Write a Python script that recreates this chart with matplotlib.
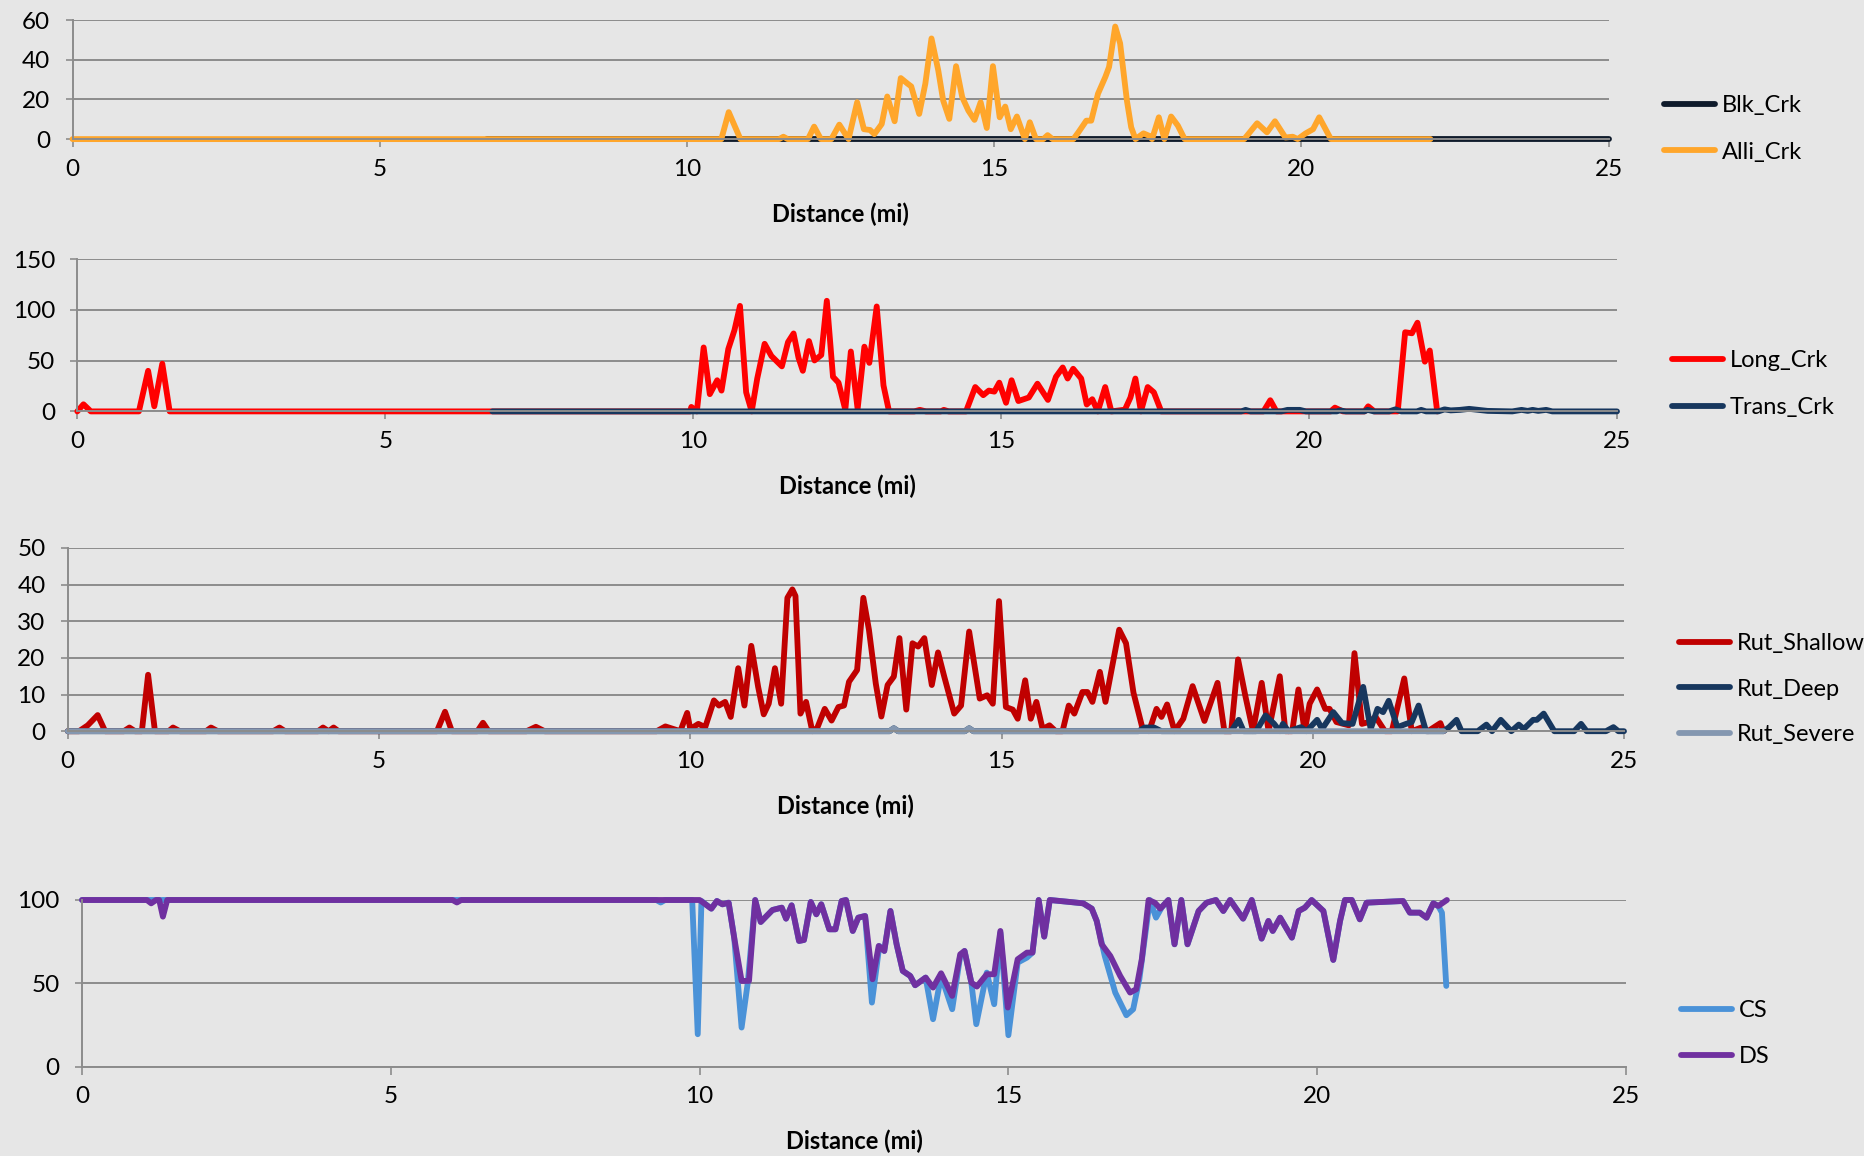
import matplotlib
matplotlib.use("Agg")
import matplotlib.pyplot as plt

plt.rcParams['font.family'] = ['Lato', 'DejaVu Sans']

# ---- data (distance in miles, value) ----
blk_d = [6.74, 25]
blk_v = [0, 0]

alli_d = [0, 10.56, 10.68, 10.87, 11.50, 11.57, 11.64, 11.97, 12.07, 12.18,
          12.35, 12.48, 12.63, 12.77, 12.88, 12.98, 13.05, 13.17, 13.26, 13.38,
          13.48, 13.59, 13.65, 13.78, 13.88, 13.98, 14.09, 14.17, 14.27, 14.38,
          14.48, 14.58, 14.68, 14.78, 14.88, 14.98, 15.09, 15.18, 15.27, 15.37,
          15.50, 15.58, 15.68, 15.80, 15.87, 15.95, 16.29, 16.37, 16.50, 16.58,
          16.69, 16.81, 16.87, 16.97, 17.05, 17.16, 17.23, 17.30, 17.43, 17.52,
          17.57, 17.68, 17.77, 17.88, 17.99, 18.10, 19.07, 19.28, 19.44, 19.57,
          19.74, 19.86, 19.94, 20.07, 20.19, 20.29, 20.48, 22.10]
alli_v = [0, 0, 13.6, 0, 0, 1.2, 0, 0, 6.3, 0,
          0, 7.3, 0, 18.6, 5, 4.6, 2.5, 7.6, 21.5, 9,
          30.8, 28, 26.6, 12.7, 28, 50.8, 34.7, 19.5, 10.2, 36.8,
          21.2, 14.4, 9.7, 18.6, 5.6, 36.8, 11, 16.4, 5, 11.4,
          0, 8.5, 0, 0, 2, 0, 0, 3.4, 9.3, 9.3,
          22.9, 31.4, 36.4, 56.8, 48.3, 19.5, 6, 0, 2.9, 1.7,
          0, 11, 0, 11.4, 6.8, 0, 0, 8, 3.4, 9,
          0.8, 1.2, 0, 2.9, 5, 11, 0, 0]

long_d = [0, 0.10, 0.22, 1.00, 1.15, 1.25, 1.38, 1.50, 9.95, 9.97,
          10.06, 10.17, 10.27, 10.39, 10.46, 10.57, 10.67, 10.76, 10.86, 10.95,
          11.04, 11.16, 11.27, 11.44, 11.54, 11.63, 11.71, 11.78, 11.88, 11.97,
          12.08, 12.17, 12.27, 12.36, 12.47, 12.56, 12.67, 12.78, 12.86, 12.98,
          13.09, 13.18, 13.59, 13.68, 13.78, 14.02, 14.07, 14.15, 14.43, 14.58,
          14.71, 14.80, 14.89, 14.97, 15.08, 15.17, 15.28, 15.45, 15.59, 15.76,
          15.89, 16.00, 16.08, 16.17, 16.30, 16.39, 16.48, 16.57, 16.69, 16.79,
          17.01, 17.10, 17.18, 17.27, 17.38, 17.48, 17.60, 19.26, 19.37, 19.47,
          20.35, 20.42, 20.55, 20.90, 20.96, 21.06, 21.44, 21.56, 21.67, 21.76,
          21.88, 21.96, 22.08]
long_v = [0, 7, 0, 0, 40, 5, 47, 0, 0, 4.4,
          0, 63, 17, 30.7, 20.5, 61.4, 80, 104, 18.8, 0,
          32.4, 66.6, 54.6, 44.4, 68.3, 76.8, 52.9, 40, 69.3, 50.2,
          55.6, 109, 34.1, 28.3, 1.7, 59, 2.4, 63.8, 47.8, 103.4,
          25.6, 0, 0, 1.5, 0, 0, 1.5, 0, 0, 24,
          16, 20.5, 19.5, 28.3, 8.5, 30.7, 10.2, 13.7, 27.3, 11.3,
          34.1, 43.3, 32.4, 42, 32.4, 6.8, 12, 0, 24, 0,
          1.7, 13.7, 32.4, 0, 24, 18.8, 0, 0, 11, 0,
          0, 3.7, 0, 0, 5, 0, 0, 78, 77, 87.4,
          49, 60, 0]

trans_d = [6.74, 18.90, 18.97, 19.05, 19.55, 19.65, 19.85, 19.95, 20.45, 20.50,
           20.60, 20.90, 20.95, 21.05, 21.30, 21.40, 21.50, 21.75, 21.82, 21.90,
           22.10, 22.20, 22.30, 22.45, 22.60, 22.75, 22.90, 23.30, 23.45, 23.55,
           23.63, 23.72, 23.85, 23.95, 25]
trans_v = [0, 0, 1.5, 0, 0, 1.5, 1.5, 0, 0, 1,
           0, 0, 1.5, 0, 0, 2, 0, 0, 1.5, 0,
           0, 2, 1, 1.5, 2.5, 1.5, 0.5, 0, 1.5, 0.5,
           1.5, 0.5, 1.5, 0, 0]

shallow_d = [0, 0.18, 0.32, 0.48, 0.60, 0.90, 0.99, 1.08, 1.19, 1.29,
             1.40, 1.62, 1.69, 1.80, 2.22, 2.30, 2.41, 3.30, 3.40, 3.49,
             4.02, 4.10, 4.19, 4.27, 4.35, 5.93, 6.06, 6.17, 6.58, 6.67,
             6.76, 7.37, 7.52, 7.66, 9.46, 9.60, 9.84, 9.95, 10.00, 10.13,
             10.24, 10.38, 10.46, 10.56, 10.65, 10.77, 10.87, 10.98, 11.09, 11.18,
             11.26, 11.36, 11.46, 11.56, 11.64, 11.69, 11.77, 11.86, 11.96, 12.04,
             12.16, 12.27, 12.38, 12.47, 12.55, 12.68, 12.78, 12.87, 12.98, 13.07,
             13.17, 13.27, 13.36, 13.47, 13.57, 13.66, 13.76, 13.88, 13.98, 14.08,
             14.24, 14.35, 14.48, 14.65, 14.77, 14.86, 14.96, 15.07, 15.18, 15.26,
             15.38, 15.47, 15.56, 15.66, 15.77, 15.87, 15.98, 16.08, 16.17, 16.30,
             16.38, 16.46, 16.58, 16.67, 16.89, 17.00, 17.12, 17.26, 17.37, 17.49,
             17.57, 17.66, 17.78, 17.92, 18.07, 18.26, 18.47, 18.58, 18.69, 18.80,
             18.92, 19.04, 19.18, 19.29, 19.47, 19.56, 19.67, 19.77, 19.87, 19.95,
             20.07, 20.20, 20.27, 20.38, 20.58, 20.67, 20.79, 20.90, 21.01, 21.16,
             21.27, 21.47, 21.59, 21.76, 21.85, 22.05, 22.10]
shallow_v = [0, 0, 1.6, 4.4, 0, 0, 1, 0, 0, 15.4,
             0, 0, 1, 0, 0, 1, 0, 0, 1, 0,
             0, 1, 0, 1, 0, 0, 5.3, 0, 0, 2.3,
             0, 0, 1.2, 0, 0, 1.3, 0, 5, 0.6, 2,
             1.1, 8.4, 7, 8, 3.9, 17.2, 7, 23.3, 12.1, 4.6,
             7.5, 17.2, 7.5, 36.4, 38.7, 36.9, 4.8, 8, 0, 0.9,
             6.1, 2.9, 6.6, 7, 13.5, 16.7, 36.4, 27.7, 13, 4,
             12.6, 14.9, 25.4, 5.9, 24, 23.1, 25.4, 12.6, 21.5, 14.9,
             4.8, 7, 27.2, 8.9, 9.8, 7.5, 35.5, 6.6, 5.9, 3.4,
             13.9, 3.4, 8, 0.6, 1.6, 0, 0, 7, 4.8, 10.7,
             10.7, 8, 16.2, 8, 27.7, 24, 10.5, 1.1, 0, 6.1,
             3.9, 7.3, 0, 3.4, 12.3, 2.8, 13.2, 0, 0, 19.6,
             9.4, 0, 13.2, 0, 15, 0, 0, 11.4, 0, 7.5,
             11.4, 6.1, 6.1, 2.5, 1.6, 21.3, 2, 2.5, 3.9, 0,
             0, 14.4, 0, 1.1, 0, 2.2, 0]

deep_d = [0, 13.20, 13.27, 13.34, 14.41, 14.48, 14.55, 17.20, 17.30, 17.45,
          17.57, 18.69, 18.81, 18.89, 19.09, 19.24, 19.38, 19.47, 19.52, 19.61,
          19.81, 19.90, 20.07, 20.15, 20.33, 20.47, 20.64, 20.81, 20.93, 21.04,
          21.13, 21.22, 21.36, 21.50, 21.59, 21.70, 21.82, 22.10, 22.19, 22.31,
          22.39, 22.65, 22.79, 22.88, 23.02, 23.19, 23.31, 23.39, 23.54, 23.60,
          23.71, 23.88, 24.20, 24.31, 24.40, 24.71, 24.83, 24.91, 25]
deep_v = [0, 0, 0.8, 0, 0, 0.8, 0, 0, 1, 1,
          0, 0, 3.1, 0, 0, 4.3, 2, 0, 2, 0,
          1.1, 0, 3.1, 0.6, 5.2, 2.2, 2, 12.1, 0.6, 6.1,
          5.2, 8.3, 1.1, 2, 2.5, 7, 0, 0, 1.1, 3.1,
          0, 0, 1.8, 0, 3.1, 0, 1.8, 0.6, 3.1, 3.1,
          4.8, 0, 0, 2, 0, 0, 1.1, 0, 0]

severe_d = [0, 13.20, 13.27, 13.34, 14.41, 14.48, 14.55, 22.10]
severe_v = [0, 0, 0.8, 0, 0, 0.8, 0, 0]

cs_d = [0, 9.30, 9.37, 9.44, 9.88, 9.97, 10.03, 10.19, 10.28, 10.37,
        10.47, 10.56, 10.68, 10.78, 10.90, 10.99, 11.18, 11.33, 11.40, 11.49,
        11.61, 11.69, 11.80, 11.89, 11.97, 12.10, 12.20, 12.30, 12.37, 12.48,
        12.57, 12.68, 12.79, 12.91, 12.99, 13.09, 13.19, 13.29, 13.41, 13.49,
        13.66, 13.78, 13.91, 14.09, 14.22, 14.29, 14.40, 14.48, 14.65, 14.77,
        14.87, 15.00, 15.15, 15.30, 15.39, 15.49, 15.58, 15.67, 16.00, 16.21,
        16.35, 16.43, 16.56, 16.73, 16.91, 17.02, 17.12, 17.29, 17.39, 17.48,
        17.59, 17.69, 17.80, 17.90, 18.08, 18.21, 18.36, 18.48, 18.59, 18.80,
        18.94, 19.10, 19.21, 19.28, 19.40, 19.59, 19.70, 19.80, 19.91, 20.10,
        20.26, 20.37, 20.45, 20.56, 20.69, 20.80, 21.39, 21.50, 21.66, 21.77,
        21.88, 21.96, 22.02, 22.09]
cs_v = [100, 100, 98.5, 100, 100, 19.4, 99.4, 94.8, 99.4, 97.4,
        98.4, 77.4, 23.4, 50.4, 100, 86.8, 94, 95.4, 88.8, 96.8,
        75.4, 76, 98.8, 91.4, 97.4, 82.4, 82.4, 99.4, 100, 81.4,
        89.4, 90.4, 38.4, 72.4, 69.4, 93.4, 73.4, 57.4, 54.4, 48.8,
        53.4, 28.4, 54.4, 34.4, 66.4, 69.4, 50.4, 25.4, 56.4, 37.4,
        80.4, 18.8, 62.4, 65.4, 68.4, 100, 78, 100, 98.8, 98,
        94.8, 87.4, 66.4, 44.4, 30.8, 34.4, 52.4, 100, 89.4, 95.4,
        100, 73.4, 100, 73.4, 93.4, 98.4, 100, 93.4, 100, 88.8,
        100, 76.8, 87.4, 81.4, 89.4, 77.4, 93.4, 95.4, 100, 93.4,
        64, 87.4, 100, 100, 88.4, 98.4, 99.4, 92.4, 92.4, 89.4,
        98, 96.4, 92.4, 48.4]

ds_d = [0, 1.05, 1.12, 1.20, 1.25, 1.31, 1.38, 6.00, 6.07, 6.14,
        9.88, 10.00, 10.19, 10.28, 10.37, 10.47, 10.56, 10.68, 10.80, 10.90,
        10.99, 11.18, 11.33, 11.40, 11.49, 11.61, 11.69, 11.80, 11.89, 11.97,
        12.10, 12.20, 12.30, 12.37, 12.48, 12.57, 12.68, 12.80, 12.90, 12.99,
        13.09, 13.19, 13.29, 13.41, 13.49, 13.66, 13.78, 13.91, 14.09, 14.22,
        14.29, 14.40, 14.49, 14.65, 14.77, 14.87, 14.99, 15.15, 15.30, 15.39,
        15.49, 15.58, 15.67, 16.00, 16.21, 16.35, 16.43, 16.51, 16.65, 16.81,
        16.97, 17.07, 17.16, 17.27, 17.37, 17.46, 17.59, 17.69, 17.80, 17.90,
        18.08, 18.21, 18.36, 18.48, 18.59, 18.80, 18.94, 19.10, 19.21, 19.28,
        19.40, 19.59, 19.70, 19.80, 19.91, 20.10, 20.26, 20.37, 20.45, 20.56,
        20.69, 20.80, 21.39, 21.50, 21.66, 21.77, 21.88, 21.96, 22.10]
ds_v = [100, 100, 98, 100, 100, 90, 100, 100, 98.5, 100,
        100, 100, 94.8, 99.4, 97.4, 98.4, 77.4, 51.4, 51.4, 100,
        86.8, 94, 95.4, 88.8, 96.8, 75.4, 76, 98.8, 91.4, 97.4,
        82.4, 82.4, 99.4, 100, 81.4, 89.4, 90.4, 52.4, 72.4, 69.4,
        93.4, 73.4, 57.4, 54.4, 48.8, 53.4, 47.4, 56, 42.4, 67.4,
        69.4, 50.4, 48, 55.4, 55.4, 81.4, 35.4, 64.4, 68.4, 68.4,
        100, 78, 100, 98.8, 98, 94.8, 87.4, 73.4, 66.4, 54.4,
        44.4, 46.4, 64.4, 100, 98.4, 94.8, 100, 73.4, 100, 73.4,
        93.4, 98.4, 100, 93.4, 100, 88.8, 100, 76.8, 87.4, 81.4,
        89.4, 77.4, 93.4, 95.4, 100, 93.4, 64, 87.4, 100, 100,
        88.4, 98.4, 99.4, 92.4, 92.4, 89.4, 98, 96.4, 100]

x_ticks = [0, 5, 10, 15, 20, 25]

BG = '#e6e6e6'
GRID = '#8c8c8c'
W, H = 1864, 1156

fig = plt.figure(figsize=(W / 100, H / 100), dpi=100, facecolor=BG)


def make_axes(left, top, right, bottom):
    # pixel box -> figure fraction
    ax = fig.add_axes([left / W, 1 - bottom / H, (right - left) / W, (bottom - top) / H])
    ax.set_facecolor(BG)
    return ax


def style(ax, yticks, box_h, leg_xy, spacing):
    ax.set_xlim(0, 25)
    ax.set_ylim(yticks[0], yticks[-1])
    ax.set_xticks(x_ticks)
    ax.set_yticks(yticks)
    ax.set_axisbelow(True)
    ax.grid(axis='y', color=GRID, lw=1.4)
    for s in ['top', 'right']:
        ax.spines[s].set_visible(False)
    for s in ['left', 'bottom']:
        ax.spines[s].set_color(GRID)
        ax.spines[s].set_linewidth(1.4)
    ax.tick_params(axis='x', direction='out', length=6, width=1.2, color=GRID,
                   labelsize=17.5, pad=8)
    ax.tick_params(axis='y', direction='out', length=5, width=1.2, color=GRID,
                   labelsize=17.5, pad=11)
    ax.set_xlabel('Distance (mi)', fontsize=17, fontweight='bold')
    ax.xaxis.set_label_coords(0.5, -75 / box_h)
    ax.xaxis.label.set_verticalalignment('center')
    ax.legend(loc='upper left', bbox_to_anchor=(leg_xy[0] / W, 1 - leg_xy[1] / H),
              bbox_transform=fig.transFigure, frameon=False, fontsize=17,
              borderpad=0, borderaxespad=0, handlelength=2.15, handletextpad=0.3,
              labelspacing=spacing)


kw = dict(lw=4.2, solid_capstyle='round', solid_joinstyle='round', clip_on=False)

# panel 1
ax1 = make_axes(72.5, 20.2, 1608.6, 139.1)
ax1.plot(blk_d, blk_v, color='#0f1b2b', label='Blk_Crk', **kw)
ax1.plot(alli_d, alli_v, color='#ffa62b', label='Alli_Crk', **kw)
style(ax1, [0, 20, 40, 60], 139.1 - 20.2, (1664, 95), 1.08)

# panel 2
ax2 = make_axes(77.3, 259.2, 1617, 411.4)
ax2.plot(long_d, long_v, color='#ff0000', label='Long_Crk', **kw)
ax2.plot(trans_d, trans_v, color='#17375e', label='Trans_Crk', **kw)
style(ax2, [0, 50, 100, 150], 411.4 - 259.2, (1672, 350), 1.12)

# panel 3
ax3 = make_axes(67.8, 548, 1624, 731.2)
ax3.plot(shallow_d, shallow_v, color='#c00000', label='Rut_Shallow', **kw)
ax3.plot(deep_d, deep_v, color='#17375e', label='Rut_Deep', **kw)
ax3.plot(severe_d, severe_v, color='#8497b0', label='Rut_Severe', **kw)
style(ax3, [0, 10, 20, 30, 40, 50], 731.2 - 548, (1679, 633), 1.04)

# panel 4
ax4 = make_axes(82, 900, 1626, 1066.5)
ax4.plot(cs_d, cs_v, color='#4a92d8', label='CS', **kw)
ax4.plot(ds_d, ds_v, color='#7030a0', label='DS', **kw)
style(ax4, [0, 50, 100], 1066.5 - 900, (1681, 1000), 1.06)

fig.savefig('out.png', dpi=100, facecolor=BG)
